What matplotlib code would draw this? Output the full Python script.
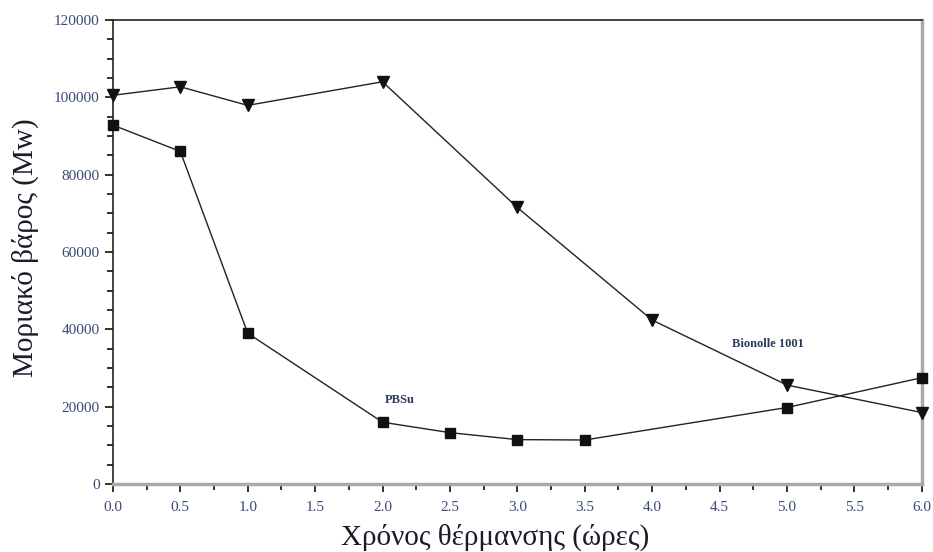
import numpy as np
import matplotlib.pyplot as plt

plt.rcParams['font.family'] = ['Liberation Serif', 'DejaVu Serif']

# heating time (hours)
hours_bion = [0.0, 0.5, 1.0, 2.0, 3.0, 4.0, 5.0, 6.0]
mw_bion = [100500, 102700, 97900, 104000, 71500, 42400, 25600, 18500]

hours_pbsu = [0.0, 0.5, 1.0, 2.0, 2.5, 3.0, 3.5, 5.0, 6.0]
mw_pbsu = [92800, 86000, 39000, 16000, 13300, 11500, 11400, 19800, 27500]

xticks = np.arange(0, 6.5, 0.5)
yticks = np.arange(0, 140000, 20000)

fig = plt.figure(figsize=(9.33, 5.52), dpi=100)
ax = fig.add_axes([0.121, 0.123, 0.867, 0.841])

ax.plot(hours_bion, mw_bion, color='#222222', lw=1, marker='v', ms=8,
        markerfacecolor='#111111', markeredgecolor='#111111', clip_on=False, zorder=3)
ax.plot(hours_pbsu, mw_pbsu, color='#222222', lw=1, marker='s', ms=7,
        markerfacecolor='#111111', markeredgecolor='#111111', clip_on=False, zorder=3)

ax.text(2.13, 21000, 'PBSu', fontsize=9, fontweight='bold', color='#2a3a5a', ha='center')
ax.text(4.86, 35500, 'Bionolle 1001', fontsize=9, fontweight='bold', color='#2a3a5a', ha='center')

ax.set_xlim(0, 6)
ax.set_ylim(0, 120000)
ax.set_xticks(xticks)
ax.set_xticklabels(['%.1f' % t for t in xticks])
ax.set_xticks(np.arange(0.25, 6, 0.5), minor=True)
ax.set_yticks(yticks)
ax.set_yticks(np.arange(0, 120001, 5000), minor=True)

ax.tick_params(which='both', direction='out', color='#111111', width=1.2)
ax.tick_params(which='major', length=6, labelsize=11, labelcolor='#3a4a78')
ax.tick_params(which='minor', length=4)
ax.tick_params(axis='x', which='major', pad=6)

for side in ['top', 'left']:
    ax.spines[side].set_color('#222222')
    ax.spines[side].set_linewidth(1.2)
for side in ['right', 'bottom']:
    ax.spines[side].set_color('#aaaaaa')
    ax.spines[side].set_linewidth(2.5)

ax.set_xlabel('Χρόνος θέρμανσης (ώρες)', fontsize=21, color='#1a1a2a')
ax.set_ylabel('Μοριακό βάρος (Mw)', fontsize=21, color='#1a1a2a')
ax.xaxis.set_label_coords(0.473, -0.085)
ax.yaxis.set_label_coords(-0.091, 0.51)

plt.savefig('out.png', dpi=100)
